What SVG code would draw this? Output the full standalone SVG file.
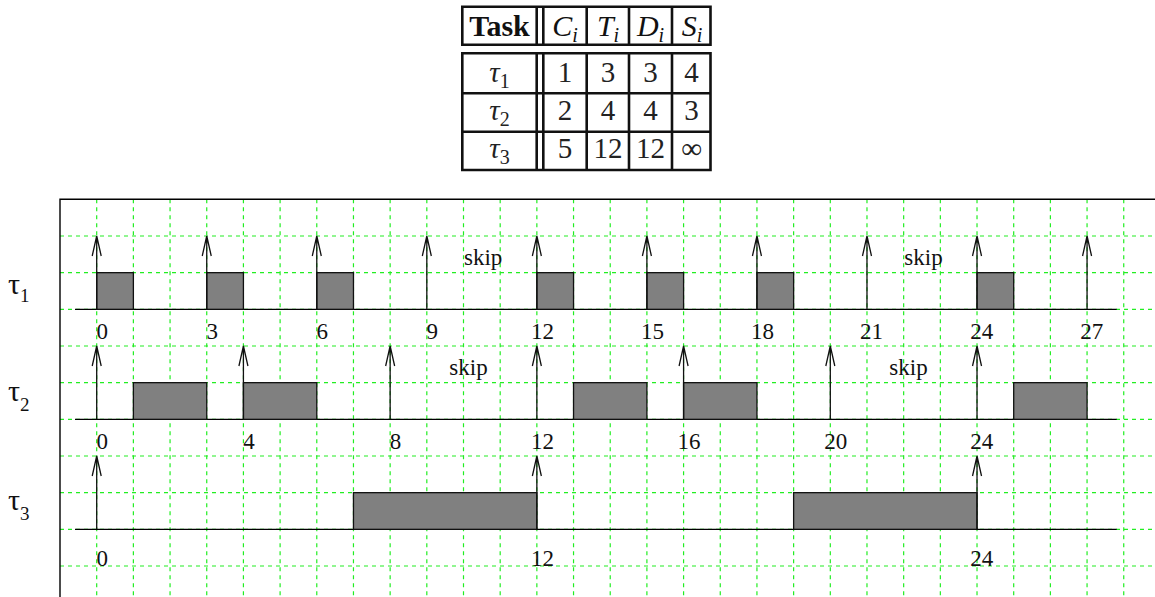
<svg xmlns="http://www.w3.org/2000/svg" xmlns:xlink="http://www.w3.org/1999/xlink" width="1155" height="597" viewBox="0 0 1155 597" font-family="'Liberation Serif','Times New Roman',Times,'DejaVu Serif',serif">
<style>
text{font-family:'Liberation Serif','Times New Roman',Times,'DejaVu Serif',serif}
.tl{fill:none;stroke:#111;stroke-width:2.6}
.grid{fill:none;stroke:#22ee22;stroke-width:1.2;stroke-dasharray:4 4}
.base{fill:none;stroke:#000;stroke-width:1.4}
.box{fill:#808080;stroke:#111;stroke-width:1.3}
.arr{fill:none;stroke:#111;stroke-width:1.3}
.num{font-size:23px;fill:#111;text-anchor:middle}
.skip{font-size:23px;fill:#111}
.th{font-size:30px;fill:#111;text-anchor:middle}
.td{font-size:29px;fill:#222;text-anchor:middle}
.row{font-size:30px;fill:#111}
</style>
<defs>
<path id="arr" class="arr" d="M0 0V-73.33M-4.5 -53.33L0 -73.33L4.5 -53.33"/>
</defs>
<rect width="1155" height="597" fill="#fff"/>

<g id="table">
<path class="tl" d="M462.3 6.7H710.5V44.7H462.3Z M536.7 6.7V44.7 M543.3 6.7V44.7 M586.7 6.7V44.7 M629 6.7V44.7 M672 6.7V44.7"/>
<path class="tl" d="M462.3 53.3H710.5V170H462.3Z M536.7 53.3V170 M543.3 53.3V170 M586.7 53.3V170 M629 53.3V170 M672 53.3V170 M462.3 93.3H710.5 M462.3 131.7H710.5"/>
<text class="th" x="499.5" y="36" font-weight="bold">Task</text>
<text class="th" x="565" y="36" font-style="italic">C<tspan font-size="20" dy="6">i</tspan></text>
<text class="th" x="608" y="36" font-style="italic">T<tspan font-size="20" dy="6">i</tspan></text>
<text class="th" x="650.5" y="36" font-style="italic">D<tspan font-size="20" dy="6">i</tspan></text>
<text class="th" x="692" y="36" font-style="italic">S<tspan font-size="20" dy="6">i</tspan></text>
<text class="td" x="499.5" y="81.5"><tspan font-style="italic">τ</tspan><tspan font-size="20" dy="6">1</tspan></text>
<text class="td" x="499.5" y="120"><tspan font-style="italic">τ</tspan><tspan font-size="20" dy="6">2</tspan></text>
<text class="td" x="499.5" y="158.3"><tspan font-style="italic">τ</tspan><tspan font-size="20" dy="6">3</tspan></text>
<text class="td" x="565" y="81.5">1</text><text class="td" x="608" y="81.5">3</text><text class="td" x="650.5" y="81.5">3</text><text class="td" x="691.5" y="81.5">4</text>
<text class="td" x="565" y="120">2</text><text class="td" x="608" y="120">4</text><text class="td" x="650.5" y="120">4</text><text class="td" x="691.5" y="120">3</text>
<text class="td" x="565" y="158.3">5</text><text class="td" x="608" y="158.3">12</text><text class="td" x="650.5" y="158.3">12</text><text class="td" x="691.5" y="158.3">∞</text>
</g>

<g id="grid">
<path class="grid" d="M96.7 199.3V597M133.38 199.3V597M170.06 199.3V597M206.74 199.3V597M243.42 199.3V597M280.1 199.3V597M316.78 199.3V597M353.46 199.3V597M390.14 199.3V597M426.82 199.3V597M463.5 199.3V597M500.18 199.3V597M536.86 199.3V597M573.54 199.3V597M610.22 199.3V597M646.9 199.3V597M683.58 199.3V597M720.26 199.3V597M756.94 199.3V597M793.62 199.3V597M830.3 199.3V597M866.98 199.3V597M903.66 199.3V597M940.34 199.3V597M977.02 199.3V597M1013.7 199.3V597M1050.38 199.3V597M1087.06 199.3V597M1123.74 199.3V597"/>
<path class="grid" d="M60 236H1155M60 272.67H1155M60 309.33H1155M60 346H1155M60 382.67H1155M60 419.33H1155M60 456H1155M60 492.67H1155M60 529.33H1155M60 566H1155"/>
</g>

<g id="frame">
<path class="base" d="M60 597V199.3H1155"/>
</g>

<g id="tau1">
<text class="row" x="8" y="294">τ<tspan font-size="19" dy="8">1</tspan></text>
<path class="base" d="M75 309.33H1116.7"/>
<rect class="box" x="96.7" y="272.67" width="36.68" height="36.66"/>
<rect class="box" x="206.74" y="272.67" width="36.68" height="36.66"/>
<rect class="box" x="316.78" y="272.67" width="36.68" height="36.66"/>
<rect class="box" x="536.86" y="272.67" width="36.68" height="36.66"/>
<rect class="box" x="646.9" y="272.67" width="36.68" height="36.66"/>
<rect class="box" x="756.94" y="272.67" width="36.68" height="36.66"/>
<rect class="box" x="977.02" y="272.67" width="36.68" height="36.66"/>
<use xlink:href="#arr" transform="translate(96.7 309.33)"/>
<use xlink:href="#arr" transform="translate(206.74 309.33)"/>
<use xlink:href="#arr" transform="translate(316.78 309.33)"/>
<use xlink:href="#arr" transform="translate(426.82 309.33)"/>
<use xlink:href="#arr" transform="translate(536.86 309.33)"/>
<use xlink:href="#arr" transform="translate(646.9 309.33)"/>
<use xlink:href="#arr" transform="translate(756.94 309.33)"/>
<use xlink:href="#arr" transform="translate(866.98 309.33)"/>
<use xlink:href="#arr" transform="translate(977.02 309.33)"/>
<use xlink:href="#arr" transform="translate(1087.06 309.33)"/>
<text class="skip" x="464" y="265">skip</text>
<text class="skip" x="904.3" y="265">skip</text>
<text class="num" x="102.2" y="339">0</text>
<text class="num" x="212.2" y="339">3</text>
<text class="num" x="322.3" y="339">6</text>
<text class="num" x="432.3" y="339">9</text>
<text class="num" x="542.4" y="339">12</text>
<text class="num" x="652.4" y="339">15</text>
<text class="num" x="762.4" y="339">18</text>
<text class="num" x="871.5" y="339">21</text>
<text class="num" x="981.8" y="339">24</text>
<text class="num" x="1091.7" y="339">27</text>
</g>

<g id="tau2">
<text class="row" x="8" y="401">τ<tspan font-size="19" dy="10">2</tspan></text>
<path class="base" d="M75 419.33H1116.7"/>
<rect class="box" x="133.38" y="382.67" width="73.36" height="36.66"/>
<rect class="box" x="243.42" y="382.67" width="73.36" height="36.66"/>
<rect class="box" x="573.54" y="382.67" width="73.36" height="36.66"/>
<rect class="box" x="683.58" y="382.67" width="73.36" height="36.66"/>
<rect class="box" x="1013.7" y="382.67" width="73.36" height="36.66"/>
<use xlink:href="#arr" transform="translate(96.7 419.33)"/>
<use xlink:href="#arr" transform="translate(243.42 419.33)"/>
<use xlink:href="#arr" transform="translate(390.14 419.33)"/>
<use xlink:href="#arr" transform="translate(536.86 419.33)"/>
<use xlink:href="#arr" transform="translate(683.58 419.33)"/>
<use xlink:href="#arr" transform="translate(830.3 419.33)"/>
<use xlink:href="#arr" transform="translate(977.02 419.33)"/>
<text class="skip" x="449.3" y="375">skip</text>
<text class="skip" x="889.3" y="375">skip</text>
<text class="num" x="102.2" y="449">0</text>
<text class="num" x="248.9" y="449">4</text>
<text class="num" x="395.6" y="449">8</text>
<text class="num" x="542.4" y="449">12</text>
<text class="num" x="689.1" y="449">16</text>
<text class="num" x="835.8" y="449">20</text>
<text class="num" x="981.8" y="449">24</text>
</g>

<g id="tau3">
<text class="row" x="8" y="510">τ<tspan font-size="19" dy="10">3</tspan></text>
<path class="base" d="M75 529.33H1116.7"/>
<rect class="box" x="353.46" y="492.67" width="183.4" height="36.66"/>
<rect class="box" x="793.62" y="492.67" width="183.4" height="36.66"/>
<use xlink:href="#arr" transform="translate(96.7 529.33)"/>
<use xlink:href="#arr" transform="translate(536.86 529.33)"/>
<use xlink:href="#arr" transform="translate(977.02 529.33)"/>
<text class="num" x="102.2" y="566">0</text>
<text class="num" x="542.4" y="566">12</text>
<text class="num" x="981.8" y="566">24</text>
</g>
</svg>
